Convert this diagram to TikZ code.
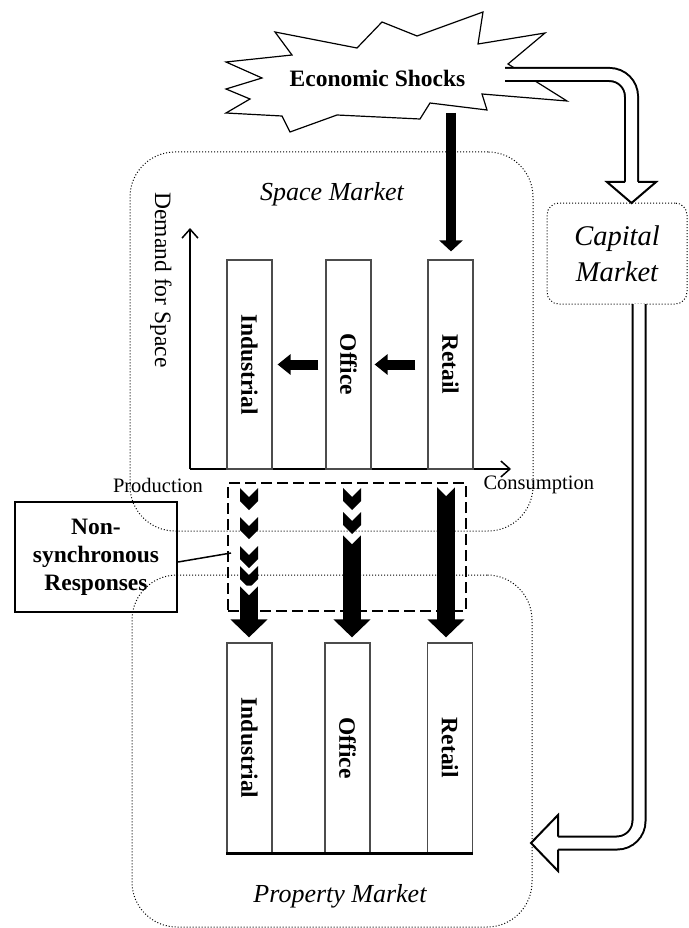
\documentclass[tikz,border=0pt]{standalone}
\usepackage{fontspec}
\setmainfont{Liberation Serif}
\usetikzlibrary{positioning}
\usetikzlibrary{arrows.meta}

\newcommand{\shockfont}{\bfseries\fontsize{23.5}{28}\selectfont}
\newcommand{\mktfont}{\itshape\fontsize{26}{31}\selectfont}
\newcommand{\capfont}{\itshape\fontsize{28.5}{36}\selectfont}
\newcommand{\axisfont}{\fontsize{20.5}{24}\selectfont}
\newcommand{\dmdfont}{\fontsize{23.5}{28}\selectfont}

\tikzstyle{mkt} = [draw, dotted, line width=1pt, rounded corners=45pt, inner sep=0pt]
\tikzstyle{bar} = [draw=black!70, line width=1.2pt, minimum width=45pt, inner sep=0pt]
\tikzstyle{barlabel} = [font=\shockfont, rotate=-90]
\tikzstyle{axis} = [draw, line width=1.5pt, -{Straight Barb[length=9pt,width=16pt]}]
\tikzstyle{shockarrow} = [draw, line width=10pt, -{Triangle[width=23pt,length=11pt]}]
\tikzstyle{midarrow} = [draw, line width=10pt, -{Triangle[width=20pt,length=13pt]}]
\tikzstyle{fatarrow} = [draw, line width=18pt, -{Triangle[width=36pt,length=18pt]}]
\tikzstyle{hollow} = [draw, line width=2pt, double=white, double distance=11pt, rounded corners=22pt]

% one chevron of the staggered responses, and the notch at a shaft's tail
\newcommand{\chev}[2]{\fill (#1-9,#2) -- (#1,#2+9) -- (#1+9,#2) -- (#1+9,#2+13) -- (#1,#2+22) -- (#1-9,#2+13) -- cycle;}
\newcommand{\notch}[2]{\fill[white] (#1-9.5,#2-0.5) -- (#1,#2+9) -- (#1+9.5,#2-0.5) -- cycle;}

\begin{document}
\begin{tikzpicture}[x=1pt,y=-1pt]
\useasboundingbox (0,0) rectangle (688,928);

\node[mkt, minimum width=403pt, minimum height=379pt] (space) at (331.5,341.5) {};
\node[mkt, minimum width=400pt, minimum height=352pt] (prop) at (332,751) {};
\node[mkt, rounded corners=12pt, minimum width=140pt, minimum height=101pt, align=center, font=\capfont] (cap) at (617,253.5) {Capital\\Market};

\node[font=\mktfont] (spacelbl) at (332,194) {Space Market};
\node[font=\mktfont] (proplbl) at (340,896) {Property Market};

% shock burst
\draw[line width=1.2pt, fill=white] (275,32) -- (357,48) -- (382,22) -- (417,36) -- (483,12) -- (478,44)
  -- (545,33) -- (508,64) -- (567,101) -- (482,94) -- (487,110) -- (430,103) -- (420,119)
  -- (337,115) -- (290,132) -- (282,116) -- (226,113) -- (250,99) -- (226,89) -- (262,78)
  -- (226,62) -- (292,55) -- cycle;
\node[font=\shockfont] (shock) at (377.5,78) {Economic Shocks};
\coordinate (shockout) at (451,113);

% capital flows
\draw[hollow] (505,74.5) -- (631.5,74.5) -- (631.5,184);
\fill[white] (607,182) -- (656,182) -- (631.5,203) -- cycle;
\draw[line width=2pt] (625,182) -- (607,182) -- (631.5,203) -- (656,182) -- (638,182);
\draw[hollow] (639,304) -- (639,843) -- (556,843);
\fill[white] (558,815) -- (558,871) -- (531,843) -- cycle;
\draw[line width=2pt] (558,836.5) -- (558,815) -- (531,843) -- (558,871) -- (558,849.5);

% space market chart
\coordinate (org) at (190,469);
\draw[axis] (org) -- (190,228);
\draw[axis] (org) -- (511,469);
\node[font=\axisfont] (prod) at (158,485) {Production};
\node[font=\axisfont, anchor=west] (cons) at (480,485) {Consumption};
\node[font=\dmdfont, rotate=-90] (dmd) at (161,280) {Demand for Space};

\node[bar, minimum height=209pt, label={[barlabel]center:Industrial}] (sInd) at (249.5,364.5) {};
\node[bar, minimum height=209pt, label={[barlabel]center:Office}] (sOff) at (348.5,364.5) {};
\node[bar, minimum height=209pt, label={[barlabel]center:Retail}] (sRet) at (450.5,364.5) {};

\draw[shockarrow] (shockout) -- ([xshift=0.5pt,yshift=8pt]sRet.north);
\draw[midarrow] ([xshift=-12pt]sRet.west) -- ([xshift=3pt]sOff.east);
\draw[midarrow] ([xshift=-7pt]sOff.west) -- ([xshift=5pt]sInd.east);

% property market
\node[bar, minimum height=210pt, label={[barlabel]center:Industrial}] (pInd) at (249.5,748) {};
\node[bar, minimum height=210pt, label={[barlabel]center:Office}] (pOff) at (347.5,748) {};
\node[bar, minimum height=210pt, label={[barlabel]center:Retail}] (pRet) at (450,748) {};
\draw[line width=2.5pt] (pInd.south west) -- (pRet.south east);

% non-synchronous responses
\node[draw, line width=2pt, dash pattern=on 11pt off 5pt, minimum width=238pt, minimum height=128pt, inner sep=0pt] (resp) at (347,547) {};
\chev{249}{488} \chev{249}{517} \chev{249}{546} \chev{249}{566}
\chev{352}{488} \chev{352}{512}
\draw[fatarrow] (249,586) -- ([xshift=-0.5pt,yshift=5pt]pInd.north);
\draw[fatarrow] (352,535) -- ([xshift=4.5pt,yshift=5pt]pOff.north);
\draw[fatarrow] (446,487) -- ([xshift=-4pt,yshift=5pt]pRet.north);
\notch{249}{586} \notch{352}{535} \notch{446}{487}

\node[draw, line width=2pt, font=\shockfont, align=center, minimum width=162pt, minimum height=110pt, inner sep=0pt] (nsr) at (96,557) {Non-\\synchronous\\Responses};
\draw[line width=1.5pt] ([yshift=-5pt]nsr.east) -- ([xshift=4pt,yshift=-6pt]resp.west);

\end{tikzpicture}
\end{document}
